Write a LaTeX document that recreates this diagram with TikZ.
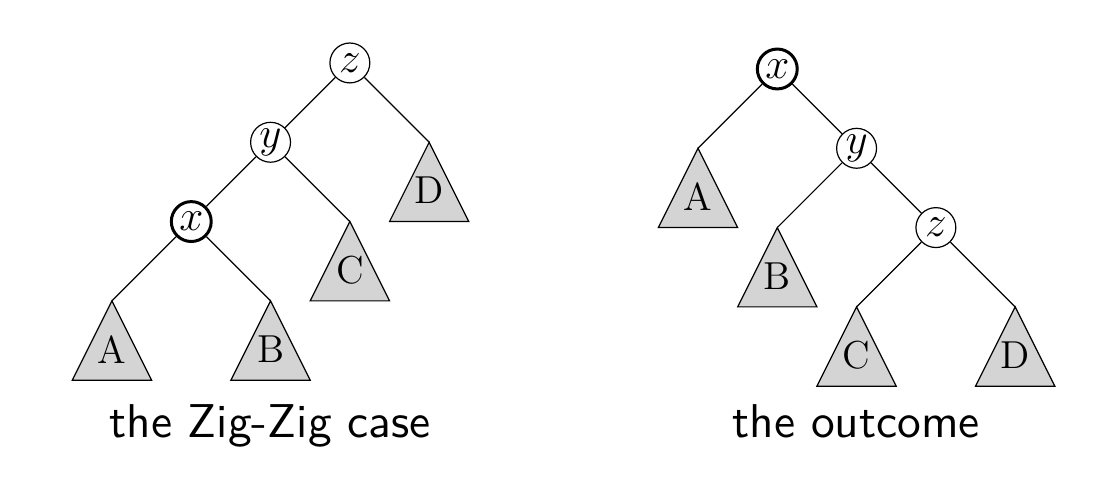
\documentclass[tikz,border=0pt]{standalone}
\usepackage{amssymb}
\usepackage{amsmath}
\usepackage{tikz}
\usepackage{xcolor}
\usetikzlibrary{calc}

\begin{document}
\begin{tikzpicture}[x=0.929cm,y=0.929cm]
        \tikzstyle{key}=[draw,circle,minimum size=13.3pt,inner sep=0pt,font=\fontsize{14}{17}\selectfont]
        \tikzstyle{splay}=[key,line width=1pt]
        \tikzstyle{subtree}=[draw,fill=black!17]
        \tikzstyle{lbl}=[font=\fontsize{13}{16}\selectfont]
        \tikzstyle{capt}=[anchor=base,scale=1.58,font=\sffamily]
        \useasboundingbox (0,0) rectangle (14.086,-6.028);
        % the Zig-Zig case
        \node[key] (z1) at (4.412,-0.794) {$z$};
        \node[key] (y1) at ($(z1) + (-1,-1)$) {$y$};
        \node[splay] (x1) at ($(y1) + (-1,-1)$) {$x$};
        \coordinate (d1) at ($(z1) + (1,-1)$);
        \coordinate (c1) at ($(y1) + (1,-1)$);
        \coordinate (a1) at ($(x1) + (-1,-1)$);
        \coordinate (b1) at ($(x1) + (1,-1)$);
        % Subtrees
        \filldraw[subtree] (a1) -- ++(-0.5,-1) -- ++(1,0) -- cycle;
        \filldraw[subtree] (b1) -- ++(-0.5,-1) -- ++(1,0) -- cycle;
        \filldraw[subtree] (c1) -- ++(-0.5,-1) -- ++(1,0) -- cycle;
        \filldraw[subtree] (d1) -- ++(-0.5,-1) -- ++(1,0) -- cycle;
        \node[lbl] (A1) at ($(a1) + (0,-0.61)$) {A};
        \node[lbl] (B1) at ($(b1) + (0,-0.61)$) {B};
        \node[lbl] (C1) at ($(c1) + (0,-0.61)$) {C};
        \node[lbl] (D1) at ($(d1) + (0,-0.61)$) {D};
        \draw (z1)--(y1);
        \draw (z1)--(d1);
        \draw (y1)--(x1);
        \draw (y1)--(c1);
        \draw (x1)--(a1);
        \draw (x1)--(b1);
        \node[capt] (t1) at (3.405,-5.523) {the Zig-Zig case};
        % the outcome
        \node[splay] (x2) at (9.802,-0.870) {$x$};
        \node[key] (y2) at ($(x2) + (1,-1)$) {$y$};
        \node[key] (z2) at ($(y2) + (1,-1)$) {$z$};
        \coordinate (a2) at ($(x2) + (-1,-1)$);
        \coordinate (b2) at ($(y2) + (-1,-1)$);
        \coordinate (c2) at ($(z2) + (-1,-1)$);
        \coordinate (d2) at ($(z2) + (1,-1)$);
        % Subtrees
        \filldraw[subtree] (a2) -- ++(-0.5,-1) -- ++(1,0) -- cycle;
        \filldraw[subtree] (b2) -- ++(-0.5,-1) -- ++(1,0) -- cycle;
        \filldraw[subtree] (c2) -- ++(-0.5,-1) -- ++(1,0) -- cycle;
        \filldraw[subtree] (d2) -- ++(-0.5,-1) -- ++(1,0) -- cycle;
        \node[lbl] (A2) at ($(a2) + (0,-0.61)$) {A};
        \node[lbl] (B2) at ($(b2) + (0,-0.61)$) {B};
        \node[lbl] (C2) at ($(c2) + (0,-0.61)$) {C};
        \node[lbl] (D2) at ($(d2) + (0,-0.61)$) {D};
        \draw (x2)--(a2);
        \draw (x2)--(y2);
        \draw (y2)--(b2);
        \draw (y2)--(z2);
        \draw (z2)--(c2);
        \draw (z2)--(d2);
        \node[capt] (t2) at (10.80,-5.523) {the outcome};
\end{tikzpicture}
\end{document}
